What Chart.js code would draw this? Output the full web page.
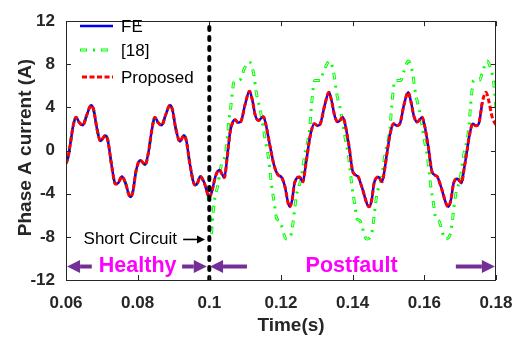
<!DOCTYPE html>
<html>
<head>
<meta charset="utf-8">
<script src="https://cdn.jsdelivr.net/npm/chart.js@4"></script>
<style>
html,body{margin:0;padding:0;background:#fff;}
#c{display:block;}
</style>
</head>
<body>
<canvas id="c" width="526" height="341"></canvas>
<script>
// ---------- data ----------
const xTicks = [0.06, 0.08, 0.10, 0.12, 0.14, 0.16, 0.18];
const xTickLabels = ['0.06', '0.08', '0.1', '0.12', '0.14', '0.16', '0.18'];
const yTicks = [-12, -8, -4, 0, 4, 8, 12];
const yTickLabels = ['-12', '-8', '-4', '0', '4', '8', '12'];

// FE (blue)
const tFE = [
  0.0600,0.0606,0.0612,0.0620,0.0628,0.0637,0.0647,0.0658,0.0670,0.0677,0.0686,0.0696,0.0710,0.0717,0.0727,0.0738,
  0.0746,0.0756,0.0766,0.0779,0.0786,0.0796,0.0807,0.0814,0.0821,0.0830,0.0839,0.0848,0.0857,0.0867,0.0878,0.0890,
  0.0897,0.0906,0.0918,0.0929,0.0936,0.0946,0.0960,0.0967,0.0975,0.0986,0.1000,0.1007,0.1018,0.1028,0.1036,0.1042,
  0.1050,0.1058,0.1065,0.1072,0.1080,0.1088,0.1100,0.1112,0.1120,0.1128,0.1137,0.1151,0.1158,0.1169,0.1181,0.1193,
  0.1200,0.1210,0.1224,0.1231,0.1238,0.1252,0.1261,0.1268,0.1275,0.1283,0.1293,0.1302,0.1310,0.1322,0.1334,0.1342,
  0.1350,0.1359,0.1373,0.1380,0.1390,0.1401,0.1415,0.1425,0.1446,0.1453,0.1460,0.1472,0.1482,0.1490,0.1497,0.1505,
  0.1514,0.1523,0.1532,0.1543,0.1555,0.1563,0.1571,0.1580,0.1594,0.1601,0.1611,0.1622,0.1636,0.1646,0.1667,0.1674,
  0.1682,0.1692,0.1704,0.1711,0.1718,0.1726,0.1735,0.1744,0.1752,0.1762
];
const yFE = [
  -1.2,-0.6,0.6,2.3,3.1,2.6,2.35,3.3,4.2,3.8,2.1,0.9,1.4,0.9,-1.3,-3.1,
  -3.0,-2.4,-3.0,-4.3,-3.9,-1.8,-0.9,-1.1,-1.3,-0.2,1.8,3.1,2.6,2.35,3.3,4.2,
  3.8,2.1,0.85,1.4,0.9,-1.3,-3.2,-3.0,-2.4,-3.0,-4.3,-3.8,-2.3,-1.8,-2.2,-2.5,
  -0.6,1.7,2.6,2.85,2.6,2.7,4.3,5.5,4.7,3.3,2.8,3.15,2.4,0.5,-1.4,-2.3,
  -2.4,-3.2,-5.2,-4.6,-3.0,-2.45,-2.9,-1.6,0.0,1.6,2.5,2.3,2.5,4.2,5.4,4.5,
  3.2,2.65,3.1,2.3,0.4,-2.0,-2.4,-3.3,-5.2,-4.6,-3.0,-2.45,-2.9,-1.6,0.0,1.6,
  2.5,2.3,2.5,4.2,5.4,4.5,3.2,2.65,3.1,2.3,0.4,-2.0,-2.4,-3.3,-5.2,-4.6,
  -3.0,-2.6,-3.0,-1.7,-0.3,1.4,2.5,2.3,2.5,4.5
];

// Proposed (red) follows FE and runs on to the end of the axis
const tPropTail = [0.1772, 0.1780, 0.1788, 0.1796, 0.1800];
const yPropTail = [5.4, 4.6, 3.3, 2.6, 2.4];

// [18] (green)
const tRef18 = [
  0.0600,0.0606,0.0612,0.0620,0.0628,0.0637,0.0647,0.0658,0.0670,0.0677,0.0686,0.0696,0.0710,0.0717,0.0727,0.0738,
  0.0746,0.0756,0.0766,0.0779,0.0786,0.0796,0.0807,0.0814,0.0821,0.0830,0.0839,0.0848,0.0857,0.0867,0.0878,0.0890,
  0.0897,0.0906,0.0918,0.0929,0.0936,0.0946,0.0960,0.0967,0.0975,0.0986,0.0995,0.1000,0.1005,0.1010,0.1015,0.1023,
  0.1032,0.1046,0.1055,0.1060,0.1069,0.1078,0.1088,0.1097,0.1112,0.1123,0.1132,0.1142,0.1156,0.1165,0.1174,0.1182,
  0.1188,0.1196,0.1215,0.1229,0.1234,0.1243,0.1257,0.1266,0.1280,0.1285,0.1294,0.1310,0.1318,0.1336,0.1347,0.1356,
  0.1366,0.1380,0.1389,0.1398,0.1406,0.1412,0.1420,0.1439,0.1453,0.1458,0.1467,0.1481,0.1490,0.1504,0.1509,0.1518,
  0.1534,0.1542,0.1556,0.1567,0.1576,0.1586,0.1600,0.1609,0.1618,0.1626,0.1632,0.1640,0.1659,0.1673,0.1678,0.1687,
  0.1701,0.1710,0.1724,0.1729,0.1738,0.1754,0.1762,0.1776,0.1787,0.1793,0.1800
];
const yRef18 = [
  -1.2,-0.6,0.6,2.3,3.1,2.6,2.35,3.3,4.2,3.8,2.1,0.9,1.4,0.9,-1.3,-3.1,
  -3.0,-2.4,-3.0,-4.3,-3.9,-1.8,-0.9,-1.1,-1.3,-0.2,1.8,3.1,2.6,2.35,3.3,4.2,
  3.8,2.1,0.85,1.4,0.9,-1.3,-3.2,-3.0,-2.4,-3.0,-3.8,-5.4,-7.8,-6.0,-4.5,-3.3,
  -1.55,-0.1,2.9,4.1,6.36,6.5,6.65,7.55,8.2,7.25,5.2,3.8,1.0,-0.65,-3.3,-5.0,
  -6.3,-6.5,-8.2,-7.7,-6.6,-4.2,-2.45,-0.4,2.0,4.1,6.5,6.5,7.25,8.3,7.25,5.2,
  3.8,1.0,-0.65,-3.3,-5.0,-6.3,-6.5,-8.2,-7.7,-6.6,-4.2,-2.45,-0.4,2.0,4.1,6.5,
  6.5,7.25,8.3,7.25,5.2,3.8,1.0,-0.65,-3.3,-5.0,-6.3,-6.5,-8.2,-7.7,-6.6,-4.2,
  -2.45,-0.4,2.0,4.1,6.5,6.5,7.25,8.3,7.4,6.5,4.0
];

// fault instant
const faultTime = 0.1;

// ---------- build ----------
const pts = (t, y) => t.map((v, i) => ({x: v, y: y[i]}));
const fePts = pts(tFE, yFE);
const propPts = pts(tFE.concat(tPropTail), yFE.concat(yPropTail));
const refPts = pts(tRef18, yRef18);

const FONT = "'Liberation Sans', Arial, Helvetica, sans-serif";
const AX = '#262626';
const PURPLE = '#742f96';
const MAGENTA = '#ff00ff';
const G_DASH = [7, 6, 2, 6];
const W_DASH = [5, 16];

function arrow(ctx, x0, y0, x1, y1, lw, hl, hw, color) {
  const ang = Math.atan2(y1 - y0, x1 - x0);
  const bx = x1 - hl * Math.cos(ang), by = y1 - hl * Math.sin(ang);
  ctx.save();
  ctx.strokeStyle = color; ctx.fillStyle = color; ctx.lineWidth = lw; ctx.lineCap = 'butt';
  ctx.beginPath(); ctx.moveTo(x0, y0); ctx.lineTo(bx, by); ctx.stroke();
  ctx.beginPath();
  ctx.moveTo(x1, y1);
  ctx.lineTo(bx + hw * Math.sin(ang), by - hw * Math.cos(ang));
  ctx.lineTo(bx - hw * Math.sin(ang), by + hw * Math.cos(ang));
  ctx.closePath(); ctx.fill();
  ctx.restore();
}

const deco = {
  id: 'deco',
  afterDraw(chart) {
    const {ctx, chartArea: a, scales: {x, y}} = chart;
    ctx.save();
    // box
    ctx.strokeStyle = AX; ctx.lineWidth = 1;
    ctx.strokeRect(Math.round(a.left) + 0.5, Math.round(a.top) + 0.5,
                   Math.round(a.right - a.left) - 1, Math.round(a.bottom - a.top));
    // inward ticks
    ctx.beginPath();
    xTicks.forEach(v => {
      const p = Math.round(x.getPixelForValue(v)) + 0.5;
      ctx.moveTo(p, a.bottom); ctx.lineTo(p, a.bottom - 5);
      ctx.moveTo(p, a.top); ctx.lineTo(p, a.top + 5);
    });
    yTicks.forEach(v => {
      const p = Math.round(y.getPixelForValue(v)) + 0.5;
      ctx.moveTo(a.left, p); ctx.lineTo(a.left + 5, p);
      ctx.moveTo(a.right, p); ctx.lineTo(a.right - 5, p);
    });
    ctx.stroke();

    // axis titles
    ctx.fillStyle = AX;
    ctx.font = 'bold 19px ' + FONT;
    ctx.textAlign = 'center'; ctx.textBaseline = 'middle';
    ctx.fillText('Time(s)', 291, 326);
    ctx.save();
    ctx.translate(26, 147.5); ctx.rotate(-Math.PI / 2);
    ctx.fillText('Phase A current (A)', 0, 0);
    ctx.restore();

    // legend
    const lx0 = 80, lx1 = 113, tx = 121;
    const rows = [26, 50, 77];
    ctx.lineCap = 'butt';
    ctx.strokeStyle = '#0000ff'; ctx.lineWidth = 2.5; ctx.setLineDash([]);
    ctx.beginPath(); ctx.moveTo(lx0, rows[0]); ctx.lineTo(lx1, rows[0]); ctx.stroke();
    ctx.strokeStyle = '#00ff00'; ctx.lineWidth = 3; ctx.setLineDash(G_DASH); ctx.lineDashOffset = 0;
    ctx.beginPath(); ctx.moveTo(lx0, rows[1]); ctx.lineTo(lx1, rows[1]); ctx.stroke();
    ctx.strokeStyle = '#ffffff'; ctx.lineWidth = 1; ctx.setLineDash(W_DASH); ctx.lineDashOffset = -1;
    ctx.beginPath(); ctx.moveTo(lx0, rows[1]); ctx.lineTo(lx1, rows[1]); ctx.stroke();
    ctx.strokeStyle = '#ff0000'; ctx.lineWidth = 3; ctx.setLineDash([5, 2.5]); ctx.lineDashOffset = 0;
    ctx.beginPath(); ctx.moveTo(lx0 + 2, rows[2]); ctx.lineTo(lx1, rows[2]); ctx.stroke();
    ctx.setLineDash([]);
    ctx.fillStyle = '#000';
    ctx.font = '17px ' + FONT;
    ctx.textAlign = 'left'; ctx.textBaseline = 'middle';
    ctx.fillText('FE', tx, rows[0] + 1);
    ctx.fillText('[18]', tx, rows[1] + 1);
    ctx.fillText('Proposed', tx, rows[2] + 1);

    // Short circuit annotation
    const scY = y.getPixelForValue(-8.24);
    ctx.font = '17px ' + FONT;
    ctx.textAlign = 'right';
    ctx.fillText('Short Circuit', x.getPixelForValue(0.0910), scY);
    arrow(ctx, x.getPixelForValue(0.0927), scY, x.getPixelForValue(0.0988), scY, 1.6, 8, 4, '#000');

    // Healthy / Postfault
    const hy = y.getPixelForValue(-10.75);
    arrow(ctx, x.getPixelForValue(0.0672), hy, x.getPixelForValue(0.0603), hy, 4, 13, 6.5, PURPLE);
    arrow(ctx, x.getPixelForValue(0.0924), hy, x.getPixelForValue(0.0993), hy, 4, 13, 6.5, PURPLE);
    arrow(ctx, x.getPixelForValue(0.1105), hy, x.getPixelForValue(0.1002), hy, 4, 13, 6.5, PURPLE);
    arrow(ctx, x.getPixelForValue(0.1688), hy, x.getPixelForValue(0.1797), hy, 4, 13, 6.5, PURPLE);
    ctx.fillStyle = MAGENTA;
    ctx.font = 'bold 21.5px ' + FONT;
    ctx.textAlign = 'center';
    ctx.fillText('Healthy', x.getPixelForValue(0.0800), hy);
    ctx.fillText('Postfault', x.getPixelForValue(0.1397), hy);
    ctx.restore();
  }
};

const curve = {
  fill: false, pointRadius: 0, pointHoverRadius: 0,
  cubicInterpolationMode: 'monotone', borderJoinStyle: 'round'
};

new Chart(document.getElementById('c'), {
  type: 'line',
  data: {
    datasets: [
      {label: 'fault', data: [{x: faultTime, y: -12}, {x: faultTime, y: 12}], borderColor: '#000',
       borderWidth: 4, borderDash: [3, 7], borderCapStyle: 'round', pointRadius: 0, order: -1, fill: false},
      Object.assign({label: 'Proposed', data: propPts, borderColor: '#ff0000', borderWidth: 3,
       borderDash: [5, 2.5], order: 0}, curve),
      Object.assign({label: 'FE', data: fePts, borderColor: '#0000ff', borderWidth: 2.5, order: 1}, curve),
      Object.assign({label: '[18] inner', data: refPts, borderColor: '#ffffff', borderWidth: 1,
       borderDash: W_DASH, borderDashOffset: -1, order: 2}, curve),
      Object.assign({label: '[18]', data: refPts, borderColor: '#00ff00', borderWidth: 3,
       borderDash: G_DASH, borderDashOffset: 0, order: 3}, curve)
    ]
  },
  options: {
    responsive: false, animation: false, devicePixelRatio: 1,
    layout: {padding: {top: 12, right: 30, left: 0, bottom: 0}},
    plugins: {legend: {display: false}, tooltip: {enabled: false}},
    scales: {
      x: {
        type: 'linear', min: 0.06, max: 0.18,
        afterBuildTicks: s => { s.ticks = xTicks.map(v => ({value: v})); },
        afterFit: s => { s.height = 61; },
        grid: {display: false, drawTicks: false}, border: {display: false},
        ticks: {padding: 13.5, color: AX, font: {family: FONT, size: 17, weight: 'bold'},
                maxRotation: 0, autoSkip: false,
                callback: (v, i) => xTickLabels[i]}
      },
      y: {
        type: 'linear', min: -12, max: 12,
        afterBuildTicks: s => { s.ticks = yTicks.map(v => ({value: v})); },
        afterFit: s => { s.width = 66; },
        grid: {display: false, drawTicks: false}, border: {display: false},
        ticks: {padding: 11, color: AX, font: {family: FONT, size: 17, weight: 'bold'},
                autoSkip: false, callback: (v, i) => yTickLabels[i]}
      }
    }
  },
  plugins: [deco]
});
</script>
</body>
</html>
